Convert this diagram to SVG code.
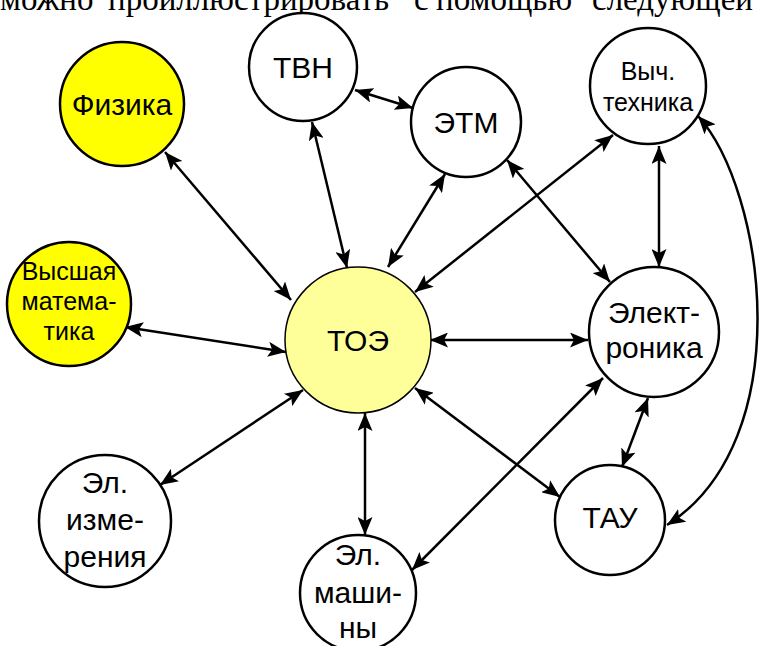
<svg xmlns="http://www.w3.org/2000/svg" width="762" height="646" viewBox="0 0 762 646">
<style>
.n{stroke:#000;stroke-width:2.5;fill:#fff}
.y{fill:#ffff00}
.c{fill:#ffff99;stroke-width:1.5}
.t{font-family:"Liberation Sans",Arial,sans-serif;font-size:30px;text-anchor:middle;fill:#000}
.s{font-size:25px}
.e{stroke:#000;stroke-width:2.5;fill:none;marker-start:url(#a);marker-end:url(#a)}
.top{font-family:"Liberation Serif","Times New Roman",serif;font-size:33px;fill:#000}
</style>
<defs>
<marker id="a" viewBox="0 0 18 15" refX="18" refY="7.5" markerWidth="18" markerHeight="15" markerUnits="userSpaceOnUse" orient="auto-start-reverse">
<path d="M0,0 L18,7.5 L0,15 L4,7.5 Z" fill="#000"/>
</marker>
</defs>
<rect width="762" height="646" fill="#fff"/>
<text class="top" y="10"><tspan x="0">можно</tspan><tspan x="108">проиллюстрировать</tspan><tspan x="414">с</tspan><tspan x="436">помощью</tspan><tspan x="592">следующей</tspan></text>
<g id="connectors">
<line class="e" x1="165" y1="152" x2="291" y2="300"/>
<line class="e" x1="125" y1="327" x2="286" y2="352"/>
<line class="e" x1="160" y1="485" x2="303" y2="390"/>
<line class="e" x1="365" y1="413" x2="365" y2="535"/>
<line class="e" x1="415" y1="388" x2="560" y2="497"/>
<line class="e" x1="430" y1="340" x2="588" y2="340"/>
<line class="e" x1="415" y1="292" x2="613" y2="135"/>
<line class="e" x1="347" y1="268" x2="312" y2="122"/>
<line class="e" x1="388" y1="267" x2="445" y2="174"/>
<line class="e" x1="355" y1="90" x2="413" y2="108"/>
<line class="e" x1="507" y1="160" x2="610" y2="282"/>
<line class="e" x1="659" y1="146" x2="659" y2="267"/>
<line class="e" x1="648" y1="398" x2="622" y2="467"/>
<line class="e" x1="603" y1="378" x2="412" y2="570"/>
<path class="e" d="M698,116 C765,190 800,440 667,525"/>
</g>
<g id="fizika"><circle class="n y" cx="122" cy="104" r="62"/><text class="t" x="122" y="115">Физика</text></g>
<g id="tvn"><circle class="n" cx="303" cy="67" r="54"/><text class="t" x="303" y="78">ТВН</text></g>
<g id="etm"><circle class="n" cx="466" cy="122" r="55"/><text class="t" x="466" y="133">ЭТМ</text></g>
<g id="vych"><circle class="n" cx="648" cy="86" r="58"/><text class="t s" x="648" y="80">Выч.</text><text class="t s" x="648" y="111">техника</text></g>
<g id="vysshaya"><circle class="n y" cx="69" cy="304" r="62"/><text class="t s" x="69" y="280">Высшая</text><text class="t s" x="69" y="310">матема-</text><text class="t s" x="69" y="340">тика</text></g>
<g id="toe"><circle class="n c" cx="358" cy="340" r="73"/><text class="t" x="358" y="351">ТОЭ</text></g>
<g id="elektronika"><circle class="n" cx="654" cy="332" r="65"/><text class="t" x="654" y="323">Элект-</text><text class="t" x="654" y="358">роника</text></g>
<g id="tau"><circle class="n" cx="610" cy="520" r="55"/><text class="t" x="610" y="528">ТАУ</text></g>
<g id="elizm"><circle class="n" cx="105" cy="521" r="66"/><text class="t" x="105" y="493">Эл.</text><text class="t" x="105" y="530">изме-</text><text class="t" x="105" y="567">рения</text></g>
<g id="elmash"><circle class="n" cx="358" cy="593" r="58"/><text class="t" x="358" y="565">Эл.</text><text class="t" x="358" y="603">маши-</text><text class="t" x="358" y="638">ны</text></g>
</svg>
